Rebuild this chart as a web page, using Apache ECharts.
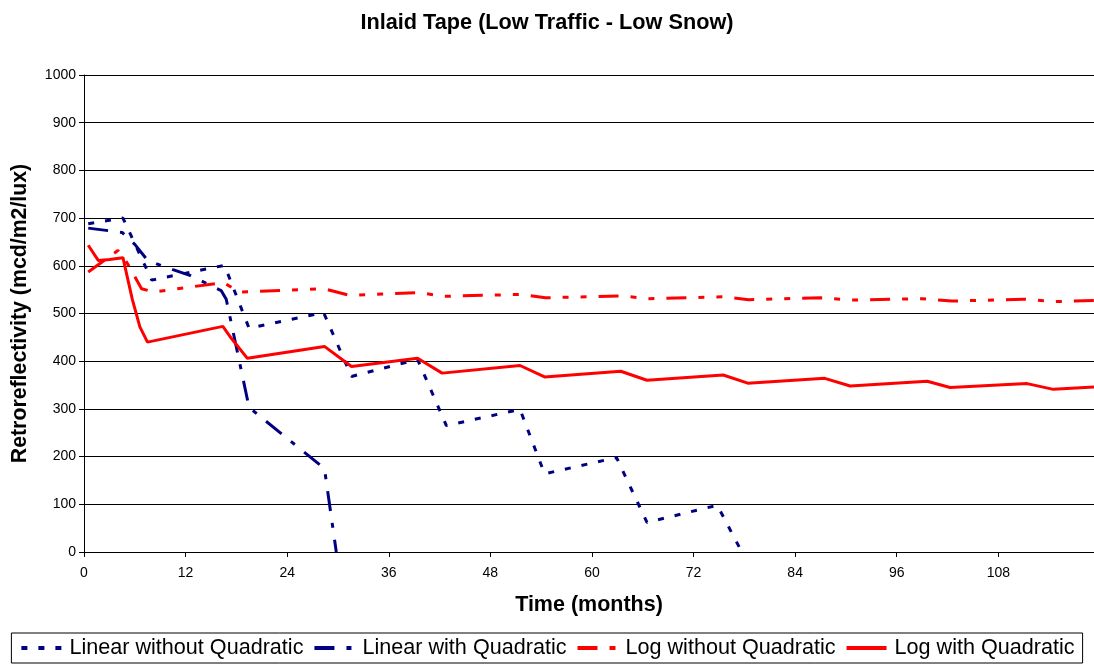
<!DOCTYPE html>
<html><head><meta charset="utf-8">
<script src="https://cdn.jsdelivr.net/npm/echarts@6/dist/echarts.min.js"></script>
<style>html,body{margin:0;padding:0;background:#fff}#c{width:1094px;height:666px}</style>
</head><body><div id="c"></div>
<script>
const titleText = 'Inlaid Tape (Low Traffic - Low Snow)';
const xAxisName = 'Time (months)';
const yAxisName = 'Retroreflectivity (mcd/m2/lux)';
const seriesNames = ['Linear without Quadratic', 'Linear with Quadratic', 'Log without Quadratic', 'Log with Quadratic'];

const linNoQMonths = [0.5, 4.6, 8.0, 16.6, 19.5, 28.3, 31.6, 39.4, 42.8, 51.5, 54.4, 62.9, 66.5, 74.8, 77.7];
const linNoQValues = [688, 700, 570, 601, 469, 502, 368, 404, 265, 299, 164, 198, 62, 98, 0];

const linQMonths = [0.5, 4.5, 6.0, 7.4, 8.6, 10.5, 12.5, 16.2, 16.8, 19.5, 28.4, 29.8];
const linQValues = [679, 670, 645, 614, 604, 592, 580, 548, 530, 303, 175, 0];

const logNoQMonths = [0.5, 4.0, 4.8, 6.8, 8.2, 16.5, 18.3, 28.3, 31.4, 39.5, 42.5, 51.5, 54.5, 63.5, 66.5, 75.5, 78.5, 87.0, 90.5, 99.0, 102.5, 111.0, 114.5, 119.3];
const logNoQValues = [587, 632, 615, 552, 545, 565, 545, 552, 538, 544, 536, 540, 533, 537, 531, 535, 529, 533, 528, 531, 526, 530, 525, 527];

const logQMonths = [0.5, 1.7, 3.0, 4.6, 5.7, 6.6, 7.5, 16.4, 17.4, 19.3, 28.4, 31.6, 39.4, 42.3, 51.5, 54.4, 63.4, 66.5, 75.5, 78.4, 87.5, 90.5, 99.6, 102.3, 111.4, 114.5, 119.3];
const logQValues = [643, 611, 613, 617, 530, 472, 440, 473, 448, 406, 431, 389, 406, 375, 391, 367, 379, 360, 371, 354, 364, 348, 358, 345, 353, 341, 346];

const xMin = 0, xMax = 119.3, xInterval = 12;
const yMin = 0, yMax = 1000, yInterval = 100;

function zip(a, b) { return a.map((v, i) => [v, b[i]]); }

const FONT = 'Liberation Sans, Arial, sans-serif';
const chart = echarts.init(document.getElementById('c'), null, {renderer: 'canvas'});
chart.setOption({
  animation: false,
  backgroundColor: '#fff',
  textStyle: {fontFamily: FONT},
  title: {
    text: titleText, left: 'center', top: 7,
    textStyle: {fontFamily: FONT, fontSize: 21.7, fontWeight: 'bold', color: '#000'}
  },
  grid: {left: 84, right: 0, top: 75, bottom: 114, outerBoundsMode: 'none', containLabel: false},
  xAxis: {
    type: 'value', min: xMin, max: xMax, interval: xInterval,
    name: xAxisName, nameLocation: 'middle', nameGap: 42,
    nameTextStyle: {fontFamily: FONT, fontSize: 21.5, fontWeight: 'bold', color: '#000'},
    axisLine: {show: true, onZero: false, lineStyle: {color: '#000', width: 1}},
    axisTick: {show: true, inside: false, length: 5, lineStyle: {color: '#000'}},
    axisLabel: {
      color: '#000', fontSize: 14, fontFamily: FONT, margin: 14,
      formatter: v => (Math.abs(v % xInterval) < 1e-6 ? String(v) : '')
    },
    splitLine: {show: false}
  },
  yAxis: {
    type: 'value', min: yMin, max: yMax, interval: yInterval,
    name: yAxisName, nameLocation: 'middle', nameGap: 53, nameRotate: 90,
    nameTextStyle: {fontFamily: FONT, fontSize: 21.3, fontWeight: 'bold', color: '#000'},
    axisLine: {show: true, lineStyle: {color: '#000', width: 1}},
    axisTick: {show: true, inside: false, length: 5, lineStyle: {color: '#000'}},
    axisLabel: {color: '#000', fontSize: 14, fontFamily: FONT, margin: 8, formatter: v => String(v)},
    splitLine: {show: true, lineStyle: {color: '#000', width: 1}}
  },
  legend: {
    bottom: 3, left: 'center',
    itemWidth: 40, itemHeight: 12, itemGap: 9,
    borderColor: '#000', borderWidth: 1, padding: [4, 8],
    itemStyle: {opacity: 0, color: 'transparent', borderWidth: 0},
    lineStyle: {width: 4},
    textStyle: {fontFamily: FONT, fontSize: 21.6, color: '#000', padding: [0, 0, 0, 3]},
    data: seriesNames
  },
  series: [
    {
      name: seriesNames[0], type: 'line', symbol: 'none', data: zip(linNoQMonths, linNoQValues),
      lineStyle: {color: '#000080', width: 3, type: [6, 11], cap: 'butt'}, itemStyle: {color: '#000080'}
    },
    {
      name: seriesNames[1], type: 'line', symbol: 'none', data: zip(linQMonths, linQValues),
      lineStyle: {color: '#000080', width: 3, type: [20, 12, 5, 12], cap: 'butt'}, itemStyle: {color: '#000080'}
    },
    {
      name: seriesNames[2], type: 'line', symbol: 'none', data: zip(logNoQMonths, logNoQValues),
      lineStyle: {color: '#ff0000', width: 3, type: [20, 12, 6, 12, 6, 12], cap: 'butt'}, itemStyle: {color: '#ff0000'}
    },
    {
      name: seriesNames[3], type: 'line', symbol: 'none', data: zip(logQMonths, logQValues),
      lineStyle: {color: '#ff0000', width: 3, type: 'solid'}, itemStyle: {color: '#ff0000'}
    }
  ]
});
</script>
</body></html>
